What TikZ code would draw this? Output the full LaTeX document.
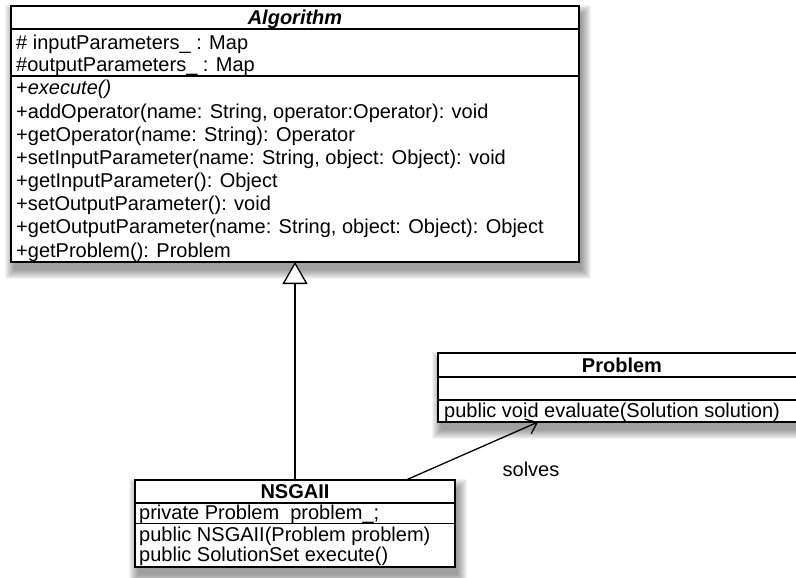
\documentclass[tikz,border=0pt]{standalone}
\usepackage{fontspec}
\setmainfont{Liberation Sans}
\usetikzlibrary{arrows.meta,calc}
\newcommand\umlshadow[4]{%
  \foreach \e in {0,1,...,9}{%
    \fill[black,opacity=0.042] (#1+3-\e,#2+8-\e) rectangle (#3+3+\e,#4+8+\e);
  }%
}
\begin{document}
\begin{tikzpicture}[x=1pt,y=-1pt,
  classbox/.style={draw,line width=1.4pt,fill=white,inner sep=0pt,outer sep=0pt},
  sepline/.style={line width=1.4pt},
  member/.style={anchor=base west,inner sep=0pt,font=\fontsize{20}{22}\selectfont},
  ctitle/.style={anchor=base,inner sep=0pt,font=\fontsize{20}{22}\selectfont\bfseries},
  conn/.style={line width=1.3pt}]
\useasboundingbox (0,0) rectangle (796,578);
\clip (0,0) rectangle (796,578);
\fill[white] (0,0) rectangle (796,578);

% shadows
\umlshadow{11}{6}{579}{262}
\umlshadow{438}{353}{806}{422}
\umlshadow{135}{480}{455}{567}

% Algorithm
\node[classbox,minimum width=568pt,minimum height=256pt] (alg) at (295,134) {};
\draw[sepline] (alg.west |- 0,29) -- (alg.east |- 0,29);
\draw[sepline] (alg.west |- 0,76) -- (alg.east |- 0,76);
\node[ctitle,font=\fontsize{20}{22}\selectfont\bfseries\itshape] (algt) at (295,25) {Algorithm};
\node[member] (a1) at (16,50) {\# inputParameters\_ : Map};
\node[member] (a2) at (16,72) {\#outputParameters\_ : Map};
\node[member] (o1) at (16,95) {+\textit{execute()}};
\node[member] (o2) at (16,118.1) {+addOperator(name: String, operator:Operator): void};
\node[member] (o3) at (16,141.3) {+getOperator(name: String): Operator};
\node[member] (o4) at (16,164.4) {+setInputParameter(name: String, object: Object): void};
\node[member] (o5) at (16,187.6) {+getInputParameter(): Object};
\node[member] (o6) at (16,210.7) {+setOutputParameter(): void};
\node[member] (o7) at (16,233.9) {+getOutputParameter(name: String, object: Object): Object};
\node[member] (o8) at (16,257) {+getProblem(): Problem};

% Problem
\node[classbox,minimum width=368pt,minimum height=69pt] (prob) at (622,387.5) {};
\draw[sepline] (prob.west |- 0,377) -- (prob.east |- 0,377);
\draw[sepline] (prob.west |- 0,400) -- (prob.east |- 0,400);
\node[ctitle] (probt) at (622,372.5) {Problem};
\node[member] (p1) at (444,417.5) {public void evaluate(Solution solution)};

% NSGAII
\node[classbox,minimum width=320pt,minimum height=87pt] (nsga) at (295,523.5) {};
\draw[sepline] (nsga.west |- 0,503) -- (nsga.east |- 0,503);
\draw[sepline] (nsga.west |- 0,523.5) -- (nsga.east |- 0,523.5);
\node[ctitle] (nsgat) at (295,498.5) {NSGAII};
\node[member] (n1) at (139,519.5) {private Problem\ \ problem\_;};
\node[member] (n2) at (139,541.5) {public NSGAII(Problem problem)};
\node[member] (n3) at (139,561.5) {public SolutionSet execute()};

% inheritance
\draw[conn,-{Triangle[open,length=22pt,width=25pt,fill=white]}] (nsga.north) -- (alg.south);

% association
\coordinate (as) at ($(nsga.north west)!0.847!(nsga.north east)$);
\coordinate (ae) at ($(prob.south west)!0.272!(prob.south east)$);
\draw[conn,-{Straight Barb[length=10pt,width=16pt]}] (as) -- (ae);
\node[inner sep=0pt,font=\fontsize{20}{22}\selectfont] (lbl) at (531,469) {solves};
\end{tikzpicture}
\end{document}
